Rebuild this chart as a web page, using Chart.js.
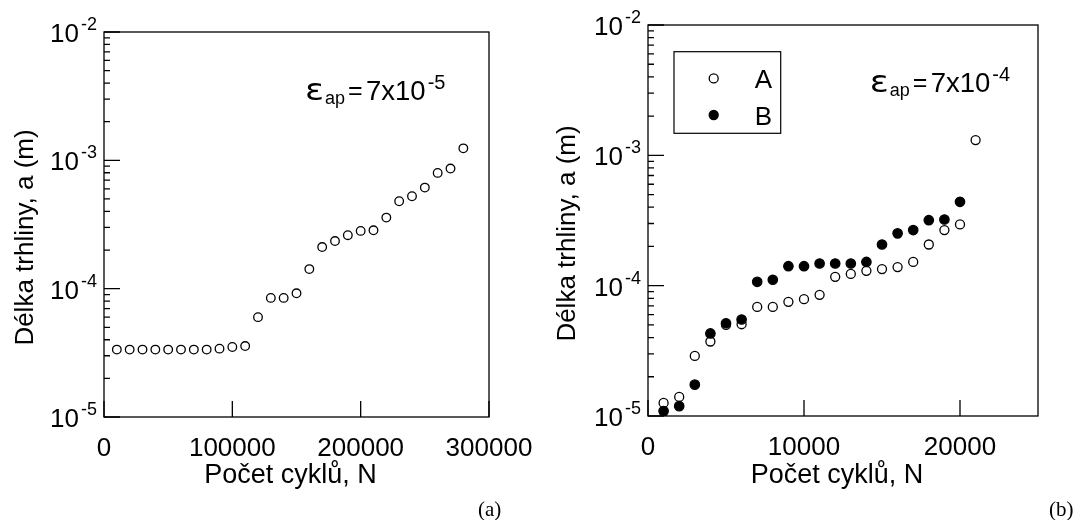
<!DOCTYPE html>
<html>
<head>
<meta charset="utf-8">
<script src="https://cdn.jsdelivr.net/npm/chart.js@4.4.1/dist/chart.umd.min.js"></script>
<style>
  body { margin: 0; background: #fff; }
  #wrap { position: relative; width: 1082px; height: 520px; overflow: hidden; }
  canvas { position: absolute; top: 0; }
  .tag { position: absolute; top: 497px; line-height: 21px; font: 21px "Liberation Serif", "Times New Roman", serif; color: #000; }
</style>
</head>
<body>
<div id="wrap">
  <canvas id="chartA" width="545" height="520" style="left:0"></canvas>
  <canvas id="chartB" width="562" height="520" style="left:520px"></canvas>
  <div class="tag" style="left:478px">(a)</div>
  <div class="tag" style="left:1049px">(b)</div>
</div>
<script>
// panel (a): strain amplitude 7x10^-5
const cyclesLeft = [10000, 20000, 30000, 40000, 50000, 60000, 70000, 80000, 90000, 100000,
  110000, 120000, 130000, 140000, 150000, 160000, 170000, 180000, 190000, 200000,
  210000, 220000, 230000, 240000, 250000, 260000, 270000, 280000];
const lengthLeft = [3.35e-5, 3.35e-5, 3.35e-5, 3.35e-5, 3.35e-5, 3.35e-5, 3.35e-5, 3.35e-5, 3.41e-5, 3.51e-5,
  3.57e-5, 6.0e-5, 8.47e-5, 8.47e-5, 9.2e-5, 1.42e-4, 2.11e-4, 2.35e-4, 2.61e-4, 2.82e-4,
  2.85e-4, 3.58e-4, 4.8e-4, 5.25e-4, 6.13e-4, 7.98e-4, 8.63e-4, 1.24e-3];

// panel (b): strain amplitude 7x10^-4
const cyclesRight = [1000, 2000, 3000, 4000, 5000, 6000, 7000, 8000, 9000, 10000,
  11000, 12000, 13000, 14000, 15000, 16000, 17000, 18000, 19000, 20000, 21000];
const lengthRightA = [1.26e-5, 1.40e-5, 2.89e-5, 3.73e-5, 5.0e-5, 5.06e-5, 6.87e-5, 6.87e-5, 7.51e-5, 7.87e-5,
  8.5e-5, 1.17e-4, 1.23e-4, 1.30e-4, 1.34e-4, 1.39e-4, 1.52e-4, 2.07e-4, 2.67e-4, 2.95e-4, 1.31e-3];
const lengthRightB = [1.09e-5, 1.19e-5, 1.74e-5, 4.3e-5, 5.15e-5, 5.5e-5, 1.07e-4, 1.11e-4, 1.41e-4, 1.41e-4,
  1.48e-4, 1.48e-4, 1.48e-4, 1.52e-4, 2.07e-4, 2.52e-4, 2.67e-4, 3.18e-4, 3.22e-4, 4.4e-4];
const seriesNames = ['A', 'B'];

// axes
const decadeValues = [1e-5, 1e-4, 1e-3, 1e-2];
const decadeExponents = ['-5', '-4', '-3', '-2'];
const minorMultipliers = [2, 3, 4, 5, 6, 7, 8, 9];
const xTicksLeft = [0, 100000, 200000, 300000];
const xTicksRight = [0, 10000, 20000];
const strainLeft = '-5';
const strainRight = '-4';
const yTitle = 'Délka trhliny, a (m)';
const xTitle = 'Počet cyklů, N';

const FONT = '"Liberation Sans", Arial, Helvetica, sans-serif';
Chart.defaults.font.family = FONT;
Chart.defaults.color = '#000';

function toXY(xs, ys) {
  return ys.map((v, i) => ({ x: xs[i], y: v }));
}

// writes "base" followed by a raised exponent, left aligned at x
function drawPower(ctx, x, y, base, exp, size, supSize) {
  ctx.textAlign = 'left';
  ctx.font = size + 'px ' + FONT;
  ctx.fillText(base, x, y);
  const w = ctx.measureText(base).width;
  ctx.font = supSize + 'px ' + FONT;
  ctx.fillText(exp, x + w + 2, y - 11);
}

const framePlugin = {
  id: 'frame',
  afterDraw(chart, args, opts) {
    const { ctx, chartArea: a, scales: { x, y } } = chart;
    ctx.save();
    ctx.strokeStyle = '#000';
    ctx.fillStyle = '#000';
    ctx.lineWidth = 1.3;
    ctx.strokeRect(a.left, a.top, a.right - a.left, a.bottom - a.top);

    // ticks point into the plot
    ctx.beginPath();
    decadeValues.forEach((d, i) => {
      const py = y.getPixelForValue(d);
      ctx.moveTo(a.left, py);
      ctx.lineTo(a.left + 16, py);
      if (i < decadeValues.length - 1) {
        minorMultipliers.forEach(m => {
          const my = y.getPixelForValue(m * d);
          ctx.moveTo(a.left, my);
          ctx.lineTo(a.left + 6, my);
        });
      }
    });
    x.ticks.forEach(t => {
      const px = x.getPixelForValue(t.value);
      ctx.moveTo(px, a.bottom);
      ctx.lineTo(px, a.bottom - 16);
    });
    ctx.stroke();

    // y tick labels as 10^n
    ctx.textBaseline = 'alphabetic';
    decadeValues.forEach((d, i) => {
      const py = y.getPixelForValue(d);
      ctx.font = '18px ' + FONT;
      const supW = ctx.measureText(decadeExponents[i]).width;
      ctx.textAlign = 'right';
      ctx.font = '26px ' + FONT;
      ctx.fillText('10', a.left - 9 - supW, py + 10);
      ctx.textAlign = 'left';
      ctx.font = '18px ' + FONT;
      ctx.fillText(decadeExponents[i], a.left - 7 - supW, py - 2);
    });

    // axis titles
    ctx.font = '27px ' + FONT;
    ctx.textAlign = 'center';
    ctx.fillText(xTitle, (a.left + a.right) / 2 - 6, 483);
    ctx.save();
    ctx.translate(opts.yTitleX, (a.top + a.bottom) / 2 + 13);
    ctx.rotate(-Math.PI / 2);
    ctx.font = '26px ' + FONT;
    ctx.fillText(yTitle, 0, 0);
    ctx.restore();

    // strain amplitude note
    const ex = a.left + opts.note.dx;
    const ey = a.top + opts.note.dy;
    ctx.textAlign = 'left';
    ctx.font = '30px "DejaVu Sans", ' + FONT;
    const ew = ctx.measureText('ε').width;
    ctx.save();
    ctx.translate(ex, ey);
    ctx.scale(19 / ew, 1);
    ctx.fillText('ε', 0, 0);
    ctx.restore();
    ctx.font = '18px ' + FONT;
    ctx.fillText('ap', ex + 20, ey + 4);
    ctx.font = '25px ' + FONT;
    ctx.fillText('=', ex + 43, ey - 1);
    drawPower(ctx, ex + 61, ey, '7x10', opts.note.exp, 27.5, 20);

    // legend box
    if (opts.legend) {
      const L = opts.legend;
      const lx = a.left + L.dx, ly = a.top + L.dy;
      ctx.lineWidth = 1.2;
      ctx.strokeRect(lx, ly, L.w, L.h);
      chart.data.datasets.forEach((ds, i) => {
        const my = ly + 26.7 + i * 36.6;
        ctx.beginPath();
        ctx.arc(lx + 39.7, my, 4.5, 0, Math.PI * 2);
        ctx.fillStyle = ds.pointBackgroundColor;
        ctx.fill();
        ctx.lineWidth = 1.3;
        ctx.strokeStyle = '#000';
        ctx.stroke();
        ctx.fillStyle = '#000';
        ctx.font = '26px ' + FONT;
        ctx.textAlign = 'left';
        ctx.fillText(ds.label, lx + 80.7, my + 10);
      });
    }
    ctx.restore();
  }
};

function makeOptions(cfg) {
  return {
    responsive: false,
    animation: false,
    layout: { padding: cfg.padding },
    plugins: {
      legend: { display: false },
      tooltip: { enabled: false },
      frame: cfg.frame
    },
    scales: {
      x: {
        type: 'linear',
        min: cfg.xMin,
        max: cfg.xMax,
        grid: { display: false },
        border: { display: false },
        ticks: {
          autoSkip: false,
          maxRotation: 0,
          padding: 8,
          color: '#000',
          font: { size: 26 },
          callback: v => String(v)
        },
        afterBuildTicks: s => { s.ticks = cfg.xTicks.map(v => ({ value: v })); },
        afterFit: s => { s.height = cfg.xHeight; }
      },
      y: {
        type: 'logarithmic',
        min: 1e-5,
        max: 1e-2,
        grid: { display: false },
        border: { display: false },
        ticks: { display: false },
        afterFit: s => { s.width = cfg.yWidth; }
      }
    }
  };
}

new Chart(document.getElementById('chartA'), {
  type: 'scatter',
  data: {
    datasets: [{
      label: 'a',
      data: toXY(cyclesLeft, lengthLeft),
      pointStyle: 'circle',
      pointRadius: 4.3,
      borderWidth: 1.3,
      borderColor: '#000',
      pointBackgroundColor: '#fff',
      backgroundColor: '#fff'
    }]
  },
  options: makeOptions({
    padding: { left: 0, top: 32, right: 56, bottom: 0 },
    xMin: 0, xMax: 300000, xTicks: xTicksLeft,
    xHeight: 103, yWidth: 104,
    frame: { yTitleX: 33.3, note: { dx: 201, dy: 67.8, exp: strainLeft } }
  }),
  plugins: [framePlugin]
});

new Chart(document.getElementById('chartB'), {
  type: 'scatter',
  data: {
    datasets: [{
      label: seriesNames[0],
      data: toXY(cyclesRight, lengthRightA),
      order: 1,
      pointStyle: 'circle',
      pointRadius: 4.5,
      borderWidth: 1.3,
      borderColor: '#000',
      pointBackgroundColor: '#fff',
      backgroundColor: '#fff'
    }, {
      label: seriesNames[1],
      data: toXY(cyclesRight, lengthRightB),
      order: 0,
      pointStyle: 'circle',
      pointRadius: 4.7,
      borderWidth: 1.3,
      borderColor: '#000',
      pointBackgroundColor: '#000',
      backgroundColor: '#000'
    }]
  },
  options: makeOptions({
    padding: { left: 0, top: 25, right: 44, bottom: 0 },
    xMin: 0, xMax: 25000, xTicks: xTicksRight,
    xHeight: 104, yWidth: 128,
    frame: {
      yTitleX: 55,
      note: { dx: 221.7, dy: 67, exp: strainRight },
      legend: { dx: 26, dy: 26.7, w: 106.7, h: 81.6 }
    }
  }),
  plugins: [framePlugin]
});
</script>
</body>
</html>
